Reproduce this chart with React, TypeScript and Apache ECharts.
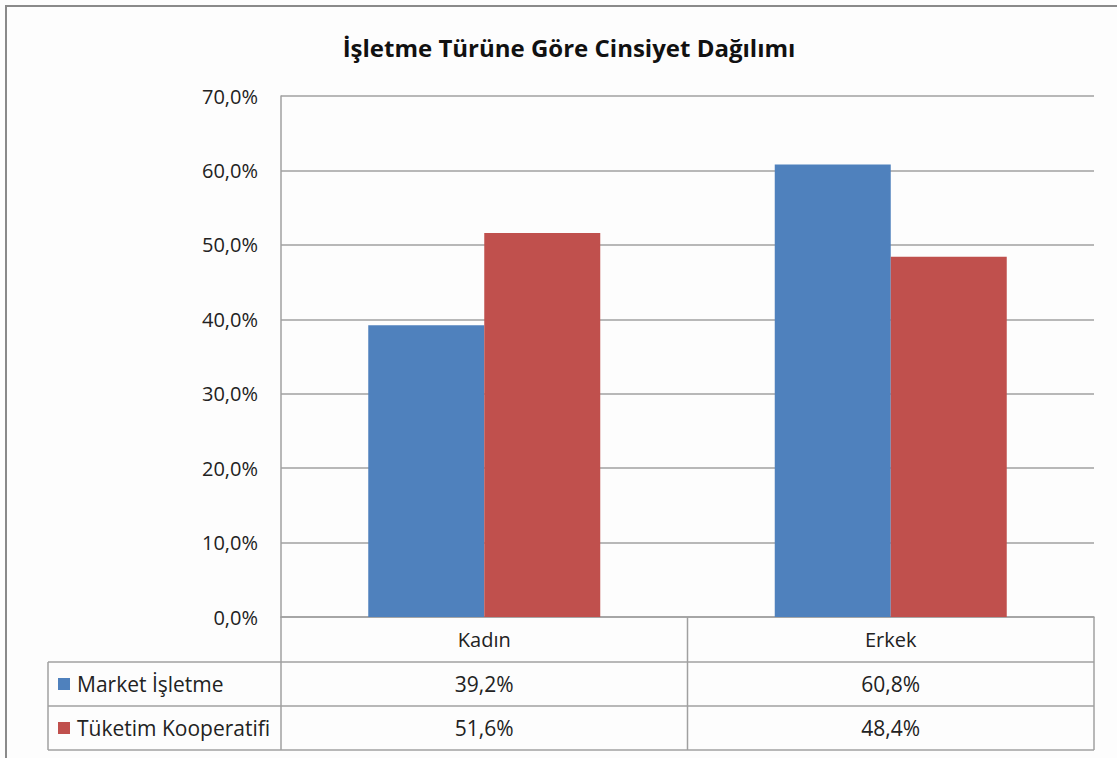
import React, { useEffect, useRef } from "react";
import * as echarts from "echarts";

const TITLE = "İşletme Türüne Göre Cinsiyet Dağılımı";
const categories = ["Kadın", "Erkek"];
const seriesNames = ["Market İşletme", "Tüketim Kooperatifi"];
const marketValues = [39.2, 60.8];
const koopValues = [51.6, 48.4];
const colors = ["#4F81BD", "#C0504D"];
const yTicks = [0, 10, 20, 30, 40, 50, 60, 70];

const W = 1117;
const H = 758;
const GL = 281;
const GR = 1094;
const GT = 96;
const GB = 617;
const ROW_H = 44;
const TABLE_LEFT = 48;
const FONT = "'Open Sans', 'Noto Sans', sans-serif";
const LINE = "#a0a0a0";

function fmt(v: number) {
  return v.toFixed(1).replace(".", ",") + "%";
}

export default function App() {
  const ref = useRef<HTMLDivElement>(null);
  useEffect(() => {
    if (!ref.current) return;
    const chart = echarts.init(ref.current, undefined, { renderer: "svg" });
    const allValues = [marketValues, koopValues];
    const catW = (GR - GL) / categories.length;
    const row1 = GB + ROW_H + 1;
    const row2 = row1 + ROW_H;
    const row3 = row2 + ROW_H;
    const graphic: any[] = [
      { type: "rect", shape: { x: 6, y: 6, width: 1300, height: 900 }, style: { fill: "none", stroke: "#8a8a8a", lineWidth: 2 }, silent: true },
    ];
    [row1, row2, row3].forEach((y) => {
      graphic.push({ type: "line", shape: { x1: TABLE_LEFT, y1: y, x2: GR, y2: y }, style: { stroke: LINE, lineWidth: 1.5 } });
    });
    graphic.push({ type: "line", shape: { x1: TABLE_LEFT, y1: row1, x2: TABLE_LEFT, y2: row3 }, style: { stroke: LINE, lineWidth: 1.5 } });
    for (let i = 0; i <= categories.length; i++) {
      const x = GL + i * catW;
      graphic.push({ type: "line", shape: { x1: x, y1: GB, x2: x, y2: row3 }, style: { stroke: LINE, lineWidth: 1.5 } });
    }
    seriesNames.forEach((name, si) => {
      const yc = row1 + si * ROW_H + ROW_H / 2;
      graphic.push({ type: "rect", shape: { x: 58, y: yc - 6, width: 12, height: 12 }, style: { fill: colors[si] } });
      graphic.push({ type: "text", x: 77, y: yc, style: { text: name, font: `21px ${FONT}`, fill: "#222", verticalAlign: "middle", textAlign: "left" } });
      allValues[si].forEach((v, ci) => {
        graphic.push({ type: "text", x: GL + (ci + 0.5) * catW, y: yc, style: { text: fmt(v), font: `21px ${FONT}`, fill: "#222", verticalAlign: "middle", textAlign: "center" } });
      });
    });

    chart.setOption({
      animation: false,
      backgroundColor: "#fdfdfd",
      title: {
        text: TITLE,
        left: 564,
        top: 30,
        textAlign: "center",
        textStyle: { fontFamily: FONT, fontSize: 24, fontWeight: "bold", color: "#111" },
      },
      grid: { left: GL, right: W - GR, top: GT, bottom: H - GB, containLabel: false },
      xAxis: {
        type: "category",
        data: categories,
        axisLine: { show: true, lineStyle: { color: LINE, width: 1.5 } },
        axisTick: { show: false },
        axisLabel: { margin: 12, fontFamily: FONT, fontSize: 20, color: "#222" },
      },
      yAxis: {
        type: "value",
        min: 0,
        max: 70,
        interval: 10,
        axisLine: { show: true, lineStyle: { color: LINE, width: 1.5 } },
        axisTick: { show: false },
        splitLine: { lineStyle: { color: LINE, width: 1.5 } },
        axisLabel: {
          margin: 23,
          fontFamily: FONT,
          fontSize: 20,
          color: "#222",
          formatter: (v: number) => (yTicks.includes(v) ? fmt(v) : ""),
        },
      },
      series: seriesNames.map((name, si) => ({
        name,
        type: "bar",
        data: allValues[si],
        barWidth: 116,
        barGap: "0%",
        itemStyle: { color: colors[si] },
      })),
      graphic,
    });
    return () => chart.dispose();
  }, []);
  return <div ref={ref} style={{ position: "fixed", left: 0, top: 0, width: W, height: H }} />;
}
